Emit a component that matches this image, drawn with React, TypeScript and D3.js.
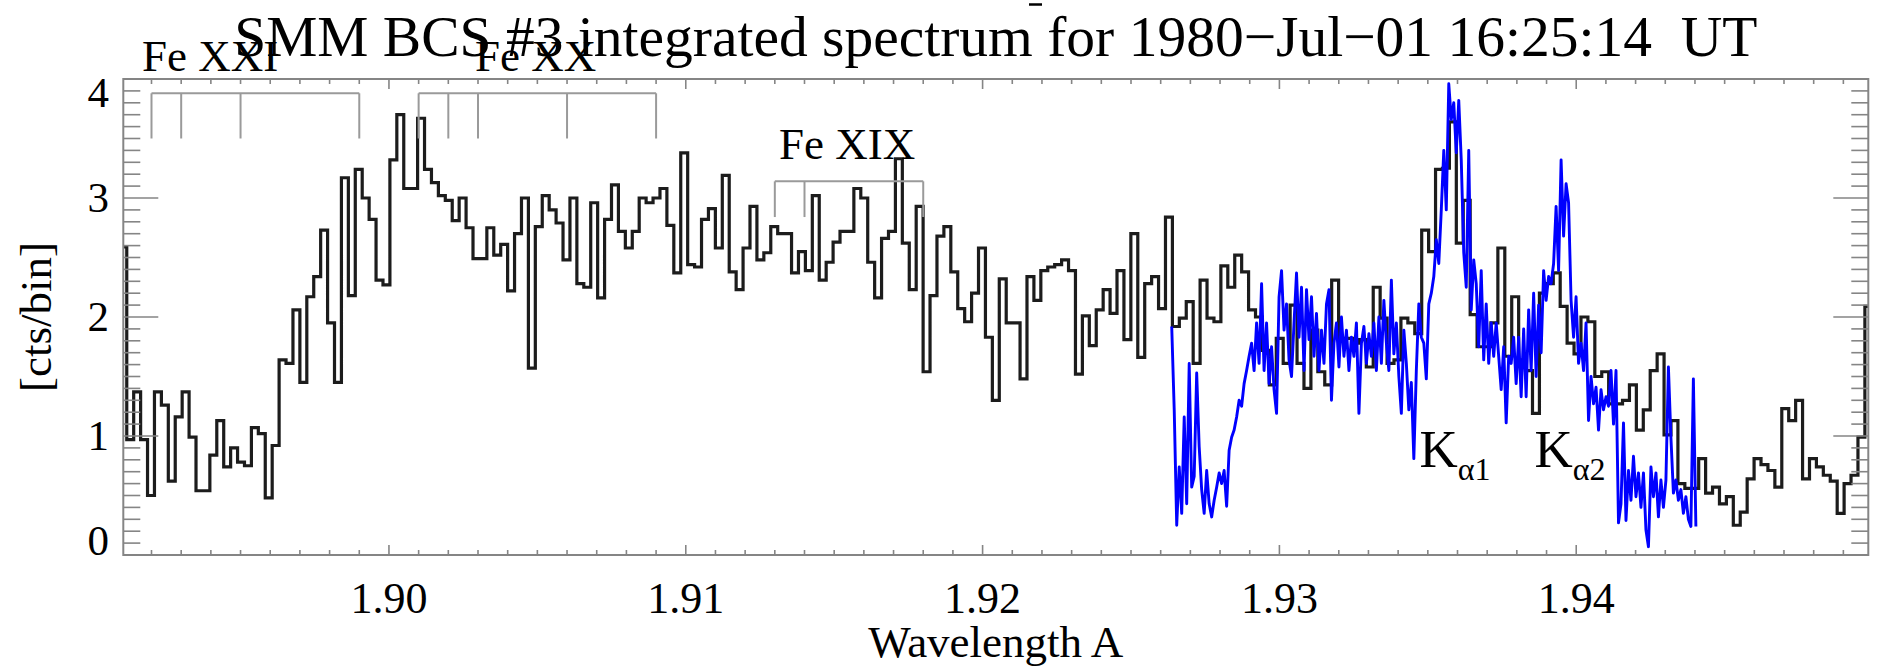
import React from "react";
import * as d3 from "d3";

// ---------- text ----------
const TITLE = "SMM BCS #3 integrated spectrum for 1980\u2212Jul\u221201 16:25:14  UT";
const X_LABEL = "Wavelength A";
const Y_LABEL = "[cts/bin]";

// ---------- axes ----------
const X_DOMAIN = [1.89105, 1.94984];
const Y_DOMAIN = [0, 4];
const X_TICKS = [1.9, 1.91, 1.92, 1.93, 1.94];
const X_TICK_LABELS = ["1.90", "1.91", "1.92", "1.93", "1.94"];
const Y_TICKS = [0, 1, 2, 3, 4];
const Y_TICK_LABELS = ["0", "1", "2", "3", "4"];
const X_MINOR_STEP = 0.001;
const Y_MINOR_STEP = 0.1;

// ---------- BCS channel 3 spectrum (black histogram) ----------
const BCS_LAMBDA_START = 1.89105;
const BCS_LAMBDA_STEP = 0.0002333;
const BCS_COUNTS = [
  2.59, 0.97, 1.37, 0.97, 0.5, 1.37, 1.26, 0.62, 1.16, 1.37,
  0.99, 0.54, 0.54, 0.84, 1.13, 0.74, 0.9, 0.78, 0.75, 1.07,
  1.02, 0.48, 0.92, 1.64, 1.61, 2.06, 1.45, 2.17, 2.34, 2.73,
  1.95, 1.45, 3.17, 2.18, 3.24, 3.0, 2.82, 2.31, 2.27, 3.32,
  3.7, 3.08, 3.08, 3.67, 3.24, 3.13, 3.02, 2.98, 2.81, 3.0,
  2.75, 2.49, 2.49, 2.75, 2.52, 2.61, 2.22, 2.7, 3.0, 1.57,
  2.76, 3.02, 2.9, 2.79, 2.48, 3.0, 2.28, 2.25, 2.96, 2.16,
  2.82, 3.11, 2.72, 2.58, 2.72, 3.0, 2.96, 3.0, 3.08, 2.77,
  2.37, 3.38, 2.44, 2.42, 2.82, 2.91, 2.58, 3.19, 2.38, 2.23,
  2.58, 2.93, 2.48, 2.54, 2.76, 2.7, 2.7, 2.37, 2.55, 2.39,
  3.02, 2.31, 2.46, 2.63, 2.72, 2.72, 3.08, 3.0, 2.46, 2.16,
  2.66, 2.72, 3.33, 2.62, 2.23, 2.93, 1.54, 2.18, 2.68, 2.76,
  2.38, 2.07, 1.96, 2.2, 2.58, 1.83, 1.3, 2.32, 1.95, 1.95,
  1.48, 2.34, 2.14, 2.39, 2.42, 2.44, 2.48, 2.39, 1.52, 2.01,
  1.76, 2.06, 2.23, 2.03, 2.39, 1.81, 2.7, 1.66, 2.28, 2.34,
  2.07, 2.84, 1.92, 1.99, 2.13, 1.61, 2.31, 1.99, 1.96, 2.43,
  2.25, 2.52, 2.38, 2.06, 2.0, 1.72, 1.43, 1.82, 1.61, 2.1,
  1.61, 1.4, 1.89, 1.54, 1.43, 2.31, 1.82, 1.82, 1.78, 1.81,
  1.58, 2.25, 1.99, 1.61, 1.64, 1.99, 1.95, 1.86, 2.73, 2.55,
  3.24, 3.25, 3.64, 2.62, 2.98, 2.02, 1.75, 1.75, 1.95, 2.58,
  1.67, 2.17, 1.64, 1.55, 1.19, 2.2, 2.28, 2.37, 2.09, 1.78,
  1.69, 2.0, 1.96, 1.5, 1.54, 1.27, 1.27, 1.3, 1.43, 1.05,
  1.22, 1.55, 1.69, 1.01, 1.13, 0.6, 0.56, 0.56, 0.81, 0.52,
  0.57, 0.43, 0.49, 0.25, 0.36, 0.64, 0.81, 0.76, 0.71, 0.57,
  1.23, 1.13, 1.3, 0.64, 0.81, 0.74, 0.67, 0.62, 0.35, 0.6,
  0.67, 0.99, 2.09,
];

// ---------- high-resolution Fe K-alpha spectrum (blue) ----------
const KA_LAMBDA_START = 1.926372;
const KA_LAMBDA_STEP = 0.00008409;
const KA_COUNTS = [
  1.92, 1.22, 0.25, 0.74, 0.35, 1.16, 0.43, 1.61, 0.57, 0.66,
  1.53, 0.91, 0.55, 0.35, 0.71, 0.43, 0.32, 0.46, 0.57, 0.69,
  0.6, 0.71, 0.41, 0.88, 0.99, 1.05, 1.16, 1.3, 1.25, 1.44,
  1.55, 1.67, 1.78, 1.55, 1.95, 1.61, 2.28, 1.55, 1.95, 1.44,
  1.75, 1.39, 1.19, 2.17, 2.39, 1.89, 2.11, 1.64, 1.5, 1.95,
  2.37, 1.83, 2.25, 1.55, 2.23, 1.81, 2.17, 1.67, 2.03, 1.55,
  1.89, 1.61, 2.11, 2.23, 1.3, 1.78, 1.95, 1.58, 2.0, 1.67,
  1.89, 1.55, 1.83, 1.67, 1.95, 1.19, 1.78, 1.92, 1.61, 1.86,
  1.67, 1.95, 1.55, 2.0, 1.61, 2.14, 1.78, 1.55, 2.31, 1.69,
  1.95, 1.5, 1.19, 1.89,
  1.61, 1.22, 1.45, 0.81, 1.55, 2.11, 1.83, 1.78, 1.48, 2.11,
  2.2, 2.34, 2.65, 2.45, 2.9, 3.4, 2.9, 3.96, 3.66, 3.8,
  3.38, 3.82, 3.32, 2.54, 2.25, 3.4, 2.06, 2.48, 2.28, 1.75,
  2.39, 1.64, 2.11, 1.61, 1.95, 1.67, 1.95, 1.67, 1.39, 1.75,
  1.11, 1.67, 1.61, 1.83, 1.44, 1.83, 1.33, 1.9, 1.33, 2.06,
  1.55, 2.2, 1.5, 2.1, 1.7, 2.39, 2.14, 2.34, 2.28, 2.45,
  2.93, 2.39, 3.32, 2.68, 3.12, 2.96, 2.14, 1.83, 2.17, 1.61,
  1.78, 1.55, 1.95, 1.13, 1.5, 1.27, 1.41, 1.05, 1.39, 1.22,
  1.33, 1.25, 1.55, 1.1, 1.55, 0.27, 0.43, 1.11, 0.29, 0.71,
  0.46, 0.83, 0.49, 0.69, 0.4, 0.69, 0.21, 0.07, 0.74, 0.49,
  0.69, 0.32, 0.63, 0.4, 0.63, 1.58, 0.99, 0.52, 0.63, 0.46,
  0.55, 0.35, 0.49, 0.3, 0.24, 1.48, 0.24,
];

// ---------- line identifications ----------
const FE_XXI_LINES = [1.892, 1.893, 1.895, 1.899];
const FE_XX_LINES = [1.901, 1.902, 1.903, 1.906, 1.909];
const FE_XIX_LINES = [1.913, 1.914, 1.918];
const ION_GROUPS = [
  { name: "Fe XXI", lines: FE_XXI_LINES, top: 3.88, bottom: 3.5, labelAt: [1.89168, 4.07] },
  { name: "Fe XX", lines: FE_XX_LINES, top: 3.88, bottom: 3.5, labelAt: [1.9029, 4.07] },
  { name: "Fe XIX", lines: FE_XIX_LINES, top: 3.14, bottom: 2.84, labelAt: [1.91314, 3.325] },
];
const KA_LABELS = [
  { main: "K", sub: "\u03b11", at: [1.93472, 0.74] },
  { main: "K", sub: "\u03b12", at: [1.93859, 0.74] },
];

// ---------- layout ----------
const W = 1883;
const H = 671;
const PL = 123.3;
const PR = 1868.3;
const PT = 79;
const PB = 555;
const FONT = "'Liberation Serif', 'Times New Roman', Times, serif";
const AXIS_COLOR = "#858585";
const MARK_COLOR = "#9a9a9a";

export default function App() {
  const x = d3.scaleLinear().domain(X_DOMAIN).range([PL, PR]);
  const y = d3.scaleLinear().domain(Y_DOMAIN).range([PB, PT]);

  const bcs = BCS_COUNTS.map((c, i) => [BCS_LAMBDA_START + i * BCS_LAMBDA_STEP, c]);
  const ka = KA_COUNTS.map((c, i) => [KA_LAMBDA_START + i * KA_LAMBDA_STEP, c]);

  const histPath = d3
    .line()
    .x((d) => x(d[0]))
    .y((d) => y(d[1]))
    .curve(d3.curveStep)(bcs);
  const kaPath = d3
    .line()
    .x((d) => x(d[0]))
    .y((d) => y(d[1]))(ka);

  const xMinor = d3.range(Math.ceil(X_DOMAIN[0] / X_MINOR_STEP), Math.floor(X_DOMAIN[1] / X_MINOR_STEP) + 1).map((k) => k * X_MINOR_STEP);
  const yMinor = d3.range(0, Math.round((Y_DOMAIN[1] - Y_DOMAIN[0]) / Y_MINOR_STEP) + 1).map((k) => Y_DOMAIN[0] + k * Y_MINOR_STEP);

  const yLabelBaseline = (v) => {
    let b = y(v) + 14;
    if (b - 28 < PT) b = PT + 28;
    if (b > PB) b = PB;
    return b;
  };

  return (
    <svg
      width={W}
      height={H}
      style={{ position: "absolute", left: 0, top: 0, background: "#fff" }}
      fontFamily={FONT}
    >
      <rect x={0} y={0} width={W} height={H} fill="#fff" />
      <defs>
        <clipPath id="plotclip">
          <rect x={PL} y={PT - 2} width={PR - PL} height={PB - PT + 4} />
        </clipPath>
      </defs>

      {/* spectra */}
      <g clipPath="url(#plotclip)">
        <path d={histPath} fill="none" stroke="#1c1c1c" strokeWidth={3.2} strokeLinejoin="miter" />
        <path d={kaPath} fill="none" stroke="#0000ff" strokeWidth={2.9} strokeLinejoin="round" />
      </g>

      {/* frame */}
      <rect x={PL} y={PT} width={PR - PL} height={PB - PT} fill="none" stroke={AXIS_COLOR} strokeWidth={2} />

      {/* x ticks */}
      {xMinor.map((v, i) => {
        const major = X_TICKS.some((t) => Math.abs(t - v) < 1e-6);
        const len = major ? 10 : 5;
        return (
          <g key={"xt" + i} stroke={AXIS_COLOR} strokeWidth={1.6}>
            <line x1={x(v)} x2={x(v)} y1={PB} y2={PB - len} />
            <line x1={x(v)} x2={x(v)} y1={PT} y2={PT + len} />
          </g>
        );
      })}
      {/* y ticks */}
      {yMinor.map((v, i) => {
        const major = Y_TICKS.some((t) => Math.abs(t - v) < 1e-6);
        const len = major ? 35 : 17;
        return (
          <g key={"yt" + i} stroke={AXIS_COLOR} strokeWidth={1.6}>
            <line x1={PL} x2={PL + len} y1={y(v)} y2={y(v)} />
            <line x1={PR} x2={PR - len} y1={y(v)} y2={y(v)} />
          </g>
        );
      })}

      {/* tick labels */}
      {X_TICKS.map((v, i) => (
        <text key={"xl" + i} x={x(v)} y={613} fontSize={44} textAnchor="middle" fill="#000">
          {X_TICK_LABELS[i]}
        </text>
      ))}
      {Y_TICKS.map((v, i) => (
        <text key={"yl" + i} x={109} y={yLabelBaseline(v)} fontSize={43} textAnchor="end" fill="#000">
          {Y_TICK_LABELS[i]}
        </text>
      ))}

      {/* axis titles */}
      <text x={(PL + PR) / 2} y={657} fontSize={45} textAnchor="middle" fill="#000">
        {X_LABEL}
      </text>
      <text
        transform={`translate(51,${(PT + PB) / 2}) rotate(-90)`}
        fontSize={45}
        textAnchor="middle"
        fill="#000"
      >
        {Y_LABEL}
      </text>

      {/* line identification brackets */}
      {ION_GROUPS.map((g, gi) => {
        const xs = g.lines.map((l) => x(l));
        return (
          <g key={"ion" + gi}>
            <line x1={d3.min(xs)} x2={d3.max(xs)} y1={y(g.top)} y2={y(g.top)} stroke={MARK_COLOR} strokeWidth={2} />
            {xs.map((xv, li) => (
              <line key={li} x1={xv} x2={xv} y1={y(g.top)} y2={y(g.bottom)} stroke={MARK_COLOR} strokeWidth={2} />
            ))}
            <text x={x(g.labelAt[0])} y={y(g.labelAt[1])} fontSize={45} fill="#000">
              {g.name}
            </text>
          </g>
        );
      })}

      {/* K-alpha labels */}
      {KA_LABELS.map((k, i) => (
        <text key={"ka" + i} x={x(k.at[0])} y={y(k.at[1])} fontSize={53} fill="#000">
          {k.main}
          <tspan fontSize={32} dy={13}>
            {k.sub}
          </tspan>
        </text>
      ))}

      {/* title */}
      <text x={(PL + PR) / 2} y={56} fontSize={57.5} textAnchor="middle" fill="#000" style={{ whiteSpace: "pre" }}>
        {TITLE}
      </text>
      <line x1={1029} x2={1042} y1={4.5} y2={4.5} stroke="#000" strokeWidth={2.5} />
    </svg>
  );
}
